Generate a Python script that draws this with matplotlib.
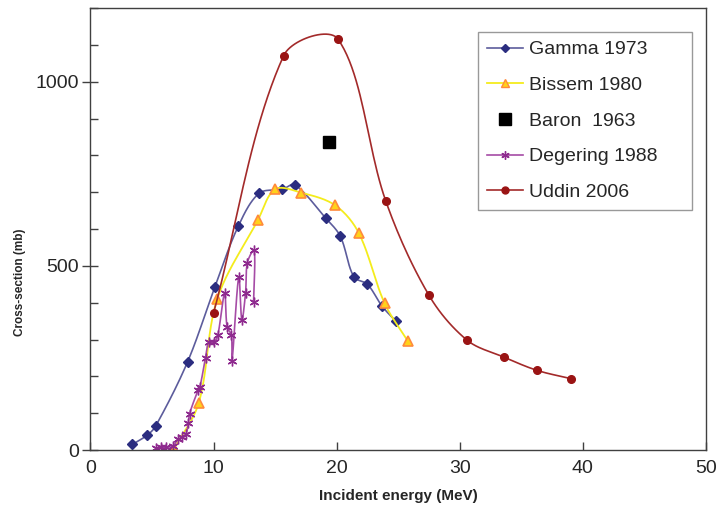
import numpy as np
import matplotlib
matplotlib.use("Agg")
from matplotlib import pyplot as plt
from matplotlib.lines import Line2D

plt.rcParams['font.family'] = ['Liberation Sans', 'DejaVu Sans']

# data (energy in MeV, cross-section in mb)
gamma_x = [3.4, 4.6, 5.3, 7.9, 10.1, 12.0, 13.7, 15.6, 16.6, 19.1, 20.3, 21.4, 22.5, 23.7, 24.8]
gamma_y = [15, 40, 65, 240, 442, 607, 697, 708, 720, 630, 580, 470, 450, 390, 350]

bissem_x = [6.8, 8.8, 10.3, 13.6, 15.0, 17.1, 19.9, 21.8, 23.9, 25.8]
bissem_y = [3, 128, 410, 624, 708, 699, 664, 589, 398, 295]

baron_x = [19.4]
baron_y = [836]

degering_x = [5.35, 5.75, 6.15, 6.7, 7.1, 7.4, 7.75, 7.95, 8.05, 8.75, 8.9, 9.35, 9.6,
              10.05, 10.35, 10.9, 11.1, 11.45, 11.5, 12.05, 12.3, 12.6, 12.75, 13.3, 13.25]
degering_y = [6, 7, 8, 10, 29, 34, 43, 72, 98, 163, 172, 251, 292,
              293, 312, 425, 334, 312, 241, 470, 353, 427, 509, 542, 402]

uddin_x = [10.0, 15.7, 20.1, 24.0, 27.5, 30.6, 33.6, 36.3, 39.0]
uddin_y = [372, 1071, 1116, 675, 420, 298, 252, 216, 194]


def smooth(ax, x, y, t=1/3, n=24):
    # Excel-style smoothed line, built in display space
    p = ax.transData.transform(np.column_stack([x, y]))
    out = [p[:1]]
    for i in range(len(p) - 1):
        p0 = p[i - 1] if i > 0 else p[i]
        p1, p2 = p[i], p[i + 1]
        p3 = p[i + 2] if i + 2 < len(p) else p[i + 1]
        d01 = np.hypot(*(p1 - p0))
        d12 = np.hypot(*(p2 - p1))
        d23 = np.hypot(*(p3 - p2))
        c1 = p1 + (p2 - p0) * t * d12 / (d01 + d12) if d01 + d12 > 0 else p1
        c2 = p2 - (p3 - p1) * t * d12 / (d12 + d23) if d12 + d23 > 0 else p2
        s = np.linspace(0, 1, n)[1:, None]
        seg = (1 - s)**3 * p1 + 3 * (1 - s)**2 * s * c1 + 3 * (1 - s) * s**2 * c2 + s**3 * p2
        out.append(seg)
    c = ax.transData.inverted().transform(np.vstack(out))
    return c[:, 0], c[:, 1]


fig = plt.figure(figsize=(7.16, 5.05), dpi=100)
ax = fig.add_axes([0.1263, 0.1089, 0.8597, 0.8752])
ax.set_xlim(0, 50)
ax.set_ylim(0, 1200)

g_c, g_m = '#5c5c9c', '#2b2d80'
b_c, b_f, b_e = '#f4ec1c', '#ffd21a', '#ff8a3c'
d_c, d_m = '#a64ca6', '#8e2a8e'
u_c, u_m = '#a32a2a', '#9a1414'

xs, ys = smooth(ax, gamma_x, gamma_y)
ax.plot(xs, ys, color=g_c, lw=1.2)
ax.plot(gamma_x, gamma_y, 'D', color=g_m, ms=5, ls='none')

xs, ys = smooth(ax, bissem_x, bissem_y)
ax.plot(xs, ys, color=b_c, lw=1.3)
ax.plot(bissem_x, bissem_y, '^', mfc=b_f, mec=b_e, mew=1.2, ms=7, ls='none')

ax.plot(baron_x, baron_y, 's', color='black', ms=9, ls='none')

xs, ys = smooth(ax, degering_x, degering_y)
ax.plot(xs, ys, color=d_c, lw=1.2)
ax.plot(degering_x, degering_y, marker=(6, 2, 0), color=d_m, mew=1.0, ms=7, ls='none')

xs, ys = smooth(ax, uddin_x, uddin_y)
ax.plot(xs, ys, color=u_c, lw=1.2)
ax.plot(uddin_x, uddin_y, 'o', color=u_m, ms=5.5, ls='none')

# axes styling
for sp in ax.spines.values():
    sp.set_color('#404040')
    sp.set_linewidth(1.0)
ax.set_xticks(np.arange(0, 51, 10))
ax.set_yticks([0, 500, 1000])
ax.set_yticks(np.arange(0, 1201, 100), minor=True)
ax.tick_params(axis='x', which='major', direction='in', length=6, width=1,
               color='#404040', labelsize=14, labelcolor='#262626', pad=7)
ax.tick_params(axis='y', which='major', direction='inout', length=12, width=1,
               color='#404040', labelsize=14, labelcolor='#262626', pad=2)
ax.tick_params(axis='y', which='minor', direction='in', length=6, width=1, color='#404040')

ax.set_xlabel('Incident energy (MeV)', fontsize=11, fontweight='bold', color='#262626')
ax.set_ylabel('Cross-section (mb)', fontsize=8.5, fontweight='bold', color='#262626')
ax.xaxis.set_label_coords(0.5, -0.088)
ax.yaxis.set_label_coords(-0.104, 0.38)

handles = [
    Line2D([], [], color=g_c, lw=1.2, marker='D', mfc=g_m, mec=g_m, ms=4),
    Line2D([], [], color=b_c, lw=1.3, marker='^', mfc=b_f, mec=b_e, ms=6),
    Line2D([], [], color='none', marker='s', mfc='black', mec='black', ms=9),
    Line2D([], [], color=d_c, lw=1.2, marker=(6, 2, 0), mec=d_m, ms=6),
    Line2D([], [], color=u_c, lw=1.2, marker='o', mfc=u_m, mec=u_m, ms=5),
]
labels = ['Gamma 1973', 'Bissem 1980', 'Baron  1963', 'Degering 1988', 'Uddin 2006']
leg = ax.legend(handles, labels, loc='upper left', bbox_to_anchor=(0.6296, 0.9457, 0.3476, 0.0),
                mode='expand', borderaxespad=0, fontsize=14, frameon=True, fancybox=False,
                edgecolor='#808080', labelspacing=0.93, handlelength=1.86,
                handletextpad=0.3, borderpad=0.45, labelcolor='#262626')
leg.get_frame().set_linewidth(1.0)

fig.savefig('out.png', dpi=100)
